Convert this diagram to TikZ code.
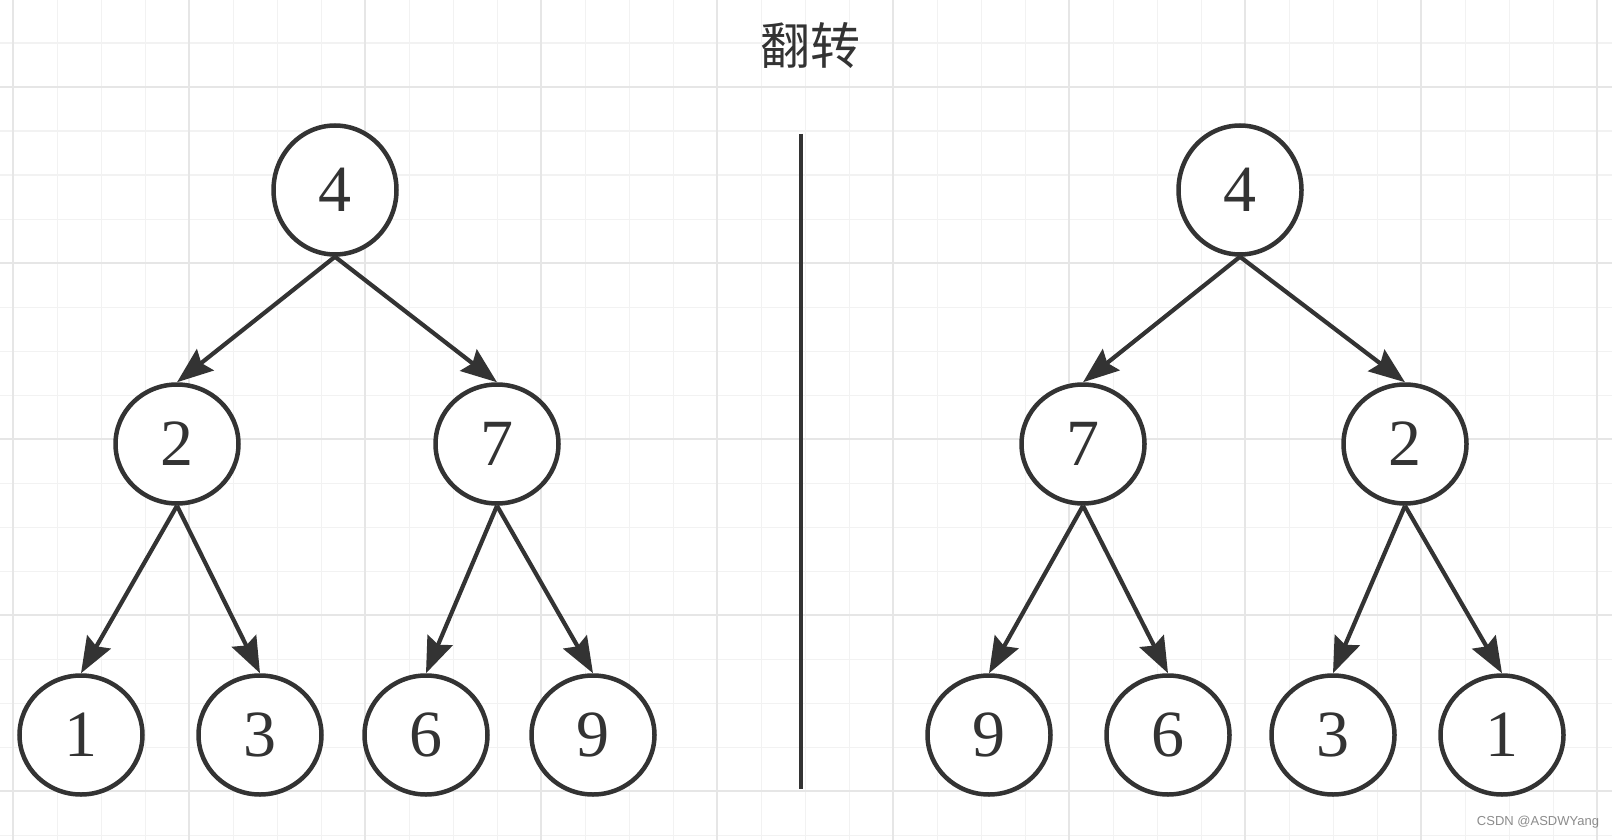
\documentclass[tikz,border=0pt]{standalone}
\usepackage{fontspec}
\setmainfont{Liberation Serif}
\newfontfamily\cjk{Noto Sans CJK SC}
\newfontfamily\wmfont{Liberation Sans}
\usetikzlibrary{shapes.geometric,arrows.meta}
\definecolor{ink}{HTML}{333333}
\definecolor{gridminor}{HTML}{F2F2F2}
\definecolor{gridmajor}{HTML}{E6E6E6}
\tikzset{
  tnode/.style={ellipse, draw=ink, line width=4.5pt, fill=white, text=ink,
    minimum width=123pt, minimum height=119pt, inner sep=0pt,
    font=\fontsize{66}{66}\selectfont},
  rootnode/.style={tnode, minimum height=129pt},
  edgearrow/.style={draw=ink, line width=4.2pt,
    -{Stealth[length=36pt,width=27pt,inset=5pt]}},
}
\begin{document}
\begin{tikzpicture}[x=1pt,y=-1pt]
\useasboundingbox (0,0) rectangle (1612,840);
\fill[white] (0,0) rectangle (1612,840);
% grid
\foreach \i in {0,...,36} {
  \pgfmathsetmacro{\xx}{13.3+44*\i}
  \draw[gridminor, line width=1.6pt] (\xx,0) -- (\xx,840);
}
\foreach \i in {-1,...,19} {
  \pgfmathsetmacro{\yy}{-0.7+44*\i}
  \draw[gridminor, line width=1.6pt] (0,\yy) -- (1612,\yy);
}
\foreach \i in {0,...,9} {
  \pgfmathsetmacro{\xx}{13.3+176*\i}
  \draw[gridmajor, line width=2.2pt] (\xx,0) -- (\xx,840);
}
\foreach \i in {0,...,4} {
  \pgfmathsetmacro{\yy}{87.3+176*\i}
  \draw[gridmajor, line width=2.2pt] (0,\yy) -- (1612,\yy);
}
% title
\node[text=ink, font=\cjk\fontsize{50}{50}\selectfont] (title) at (810,46) {翻转};
% divider
\coordinate (dtop) at (801,134);
\coordinate (dbot) at (801,789);
\draw[ink, line width=4.5pt] (dtop) -- (dbot);
% left tree
\node[rootnode] (L4) at (335,190) {4};
\node[tnode] (L2) at (177,444) {2};
\node[tnode] (L7) at (497,444) {7};
\node[tnode] (L1) at (81,735) {1};
\node[tnode] (L3) at (260,735) {3};
\node[tnode] (L6) at (426,735) {6};
\node[tnode] (L9) at (593,735) {9};
\draw[edgearrow] (L4.south) -- (L2.north);
\draw[edgearrow] (L4.south) -- (L7.north);
\draw[edgearrow] (L2.south) -- (L1.north);
\draw[edgearrow] (L2.south) -- (L3.north);
\draw[edgearrow] (L7.south) -- (L6.north);
\draw[edgearrow] (L7.south) -- (L9.north);
% right tree
\node[rootnode] (R4) at (1240,190) {4};
\node[tnode] (R7) at (1083,444) {7};
\node[tnode] (R2) at (1405,444) {2};
\node[tnode] (R9) at (989,735) {9};
\node[tnode] (R6) at (1168,735) {6};
\node[tnode] (R3) at (1333,735) {3};
\node[tnode] (R1) at (1502,735) {1};
\draw[edgearrow] (R4.south) -- (R7.north);
\draw[edgearrow] (R4.south) -- (R2.north);
\draw[edgearrow] (R7.south) -- (R9.north);
\draw[edgearrow] (R7.south) -- (R6.north);
\draw[edgearrow] (R2.south) -- (R3.north);
\draw[edgearrow] (R2.south) -- (R1.north);
% watermark
\node[text=black!45, font=\wmfont\fontsize{13}{13}\selectfont] (wm) at (1538,822) {CSDN @ASDWYang};
\end{tikzpicture}
\end{document}
